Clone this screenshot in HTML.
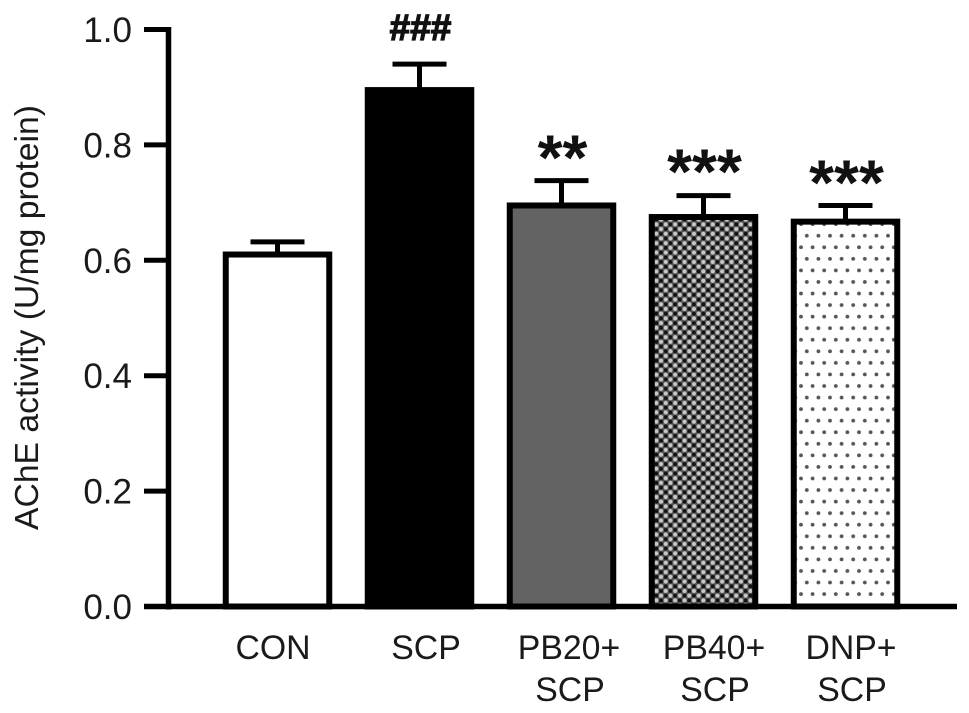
<!DOCTYPE html>
<html>
<head>
<meta charset="utf-8">
<title>AChE activity chart</title>
<style>
html,body{margin:0;padding:0;background:#fff;width:969px;height:713px;overflow:hidden}
svg{display:block;font-family:"Liberation Sans",Arial,sans-serif}
text{fill:#1a1a1a}
</style>
</head>
<body>
<svg id="chart" width="969" height="713" viewBox="0 0 969 713" xmlns="http://www.w3.org/2000/svg">
<defs>
<pattern id="pat-gray" patternUnits="userSpaceOnUse" width="4" height="4"><rect width="4" height="4" fill="#636363"/></pattern>
<pattern id="pat-check" patternUnits="userSpaceOnUse" width="9.4" height="9.4" patternTransform="translate(654 222)">
<rect width="9.4" height="9.4" fill="#555"/>
<circle cx="2.35" cy="2.35" r="2.1" fill="#c8c8c8"/>
<circle cx="7.05" cy="7.05" r="2.1" fill="#c8c8c8"/>
<circle cx="7.05" cy="2.35" r="1.9" fill="#111"/>
<circle cx="2.35" cy="7.05" r="1.9" fill="#111"/>
</pattern>
<pattern id="pat-dots" patternUnits="userSpaceOnUse" width="11.6" height="23.12" patternTransform="translate(801 229.9)">
<rect width="11.6" height="23.12" fill="#fff"/>
<circle cx="5.8" cy="5.8" r="1.9" fill="#555"/>
<circle cx="0" cy="17.36" r="1.9" fill="#555"/>
<circle cx="11.6" cy="17.36" r="1.9" fill="#555"/>
</pattern>
</defs>
<g id="plot"></g>
</svg>
<script>
var categories = [["CON"],["SCP"],["PB20+","SCP"],["PB40+","SCP"],["DNP+","SCP"]];
var means = [0.61,0.895,0.695,0.675,0.667];
var errorTops = [0.632,0.94,0.738,0.712,0.695];
var marks = ["","###","**","***","***"];
var fills = ["#fff","#000","url(#pat-gray)","url(#pat-check)","url(#pat-dots)"];
var yTicks = ["0.0","0.2","0.4","0.6","0.8","1.0"];

var NS = "http://www.w3.org/2000/svg";
var plot = document.getElementById("plot");
function yScale(v){ return 606.5 - v * 577; }
function xScale(i){ return 277.5 + i * 142; }
function labelX(i){ return [273,426,569,714,851][i]; }
function markGap(i){ return [0,24,1,2,1][i]; }
var barW = 103.5, sw = 6;

function make(tag, attrs, parent){
  var el = document.createElementNS(NS, tag);
  for (var k in attrs) el.setAttribute(k, attrs[k]);
  (parent || plot).appendChild(el);
  return el;
}

means.forEach(function(m, i){
  var cx = xScale(i), top = yScale(m), et = yScale(errorTops[i]);
  var stem = make("line", {x1:cx, x2:cx, y1:et, y2:top, stroke:"#000", "stroke-width":5});
  
  
  var cap = make("line", {x1:cx-27, x2:cx+27, y1:et, y2:et, stroke:"#000", "stroke-width":5});
  
  
  var bar = make("rect", {x:cx-barW/2, y:top, width:barW, height:yScale(0)-top, fill:fills[i], stroke:"#000", "stroke-width":sw});
  
  

  categories[i].forEach(function(line, j){
    var t = make("text", {x:labelX(i) + (j ? 1 : 0), y:659 + j*42, "text-anchor":"middle", "font-size":33.8});
    t.textContent = line;
    
    
  });

  if (marks[i]) {
    var isHash = marks[i].charAt(0) === "#";
    var s = make("text", {x:cx + 1, y: et - markGap(i), "text-anchor":"middle", "font-size": isHash ? 37 : 64, "font-weight":"bold"});
    s.textContent = marks[i];
    s.setAttribute("style", isHash ? "fill:#111;stroke:#111;stroke-width:1.3" : "fill:#111");
    
    
  }
});

var yAxis = make("line", {x1:168.5, x2:168.5, y1:yScale(1)-2.5, y2:yScale(0)+3, stroke:"#000", "stroke-width":5.5});


var xAxis = make("line", {x1:144, x2:957, y1:yScale(0), y2:yScale(0), stroke:"#000", "stroke-width":5.5});



yTicks.forEach(function(label){
  var v = parseFloat(label), y = yScale(v);
  var tick = make("line", {x1:144, x2:168, y1:y, y2:y, stroke:"#000", "stroke-width":5});
  
  
  var t = make("text", {x:132, y:y+12.5, "text-anchor":"end", "font-size":35});
  t.textContent = label;
  
  
});

var title = make("text", {x:0, y:0, transform:"translate(38 317.5) rotate(-90)", "text-anchor":"middle", "font-size":33.7});
title.textContent = "AChE activity (U/mg protein)";


</script>
</body>
</html>
